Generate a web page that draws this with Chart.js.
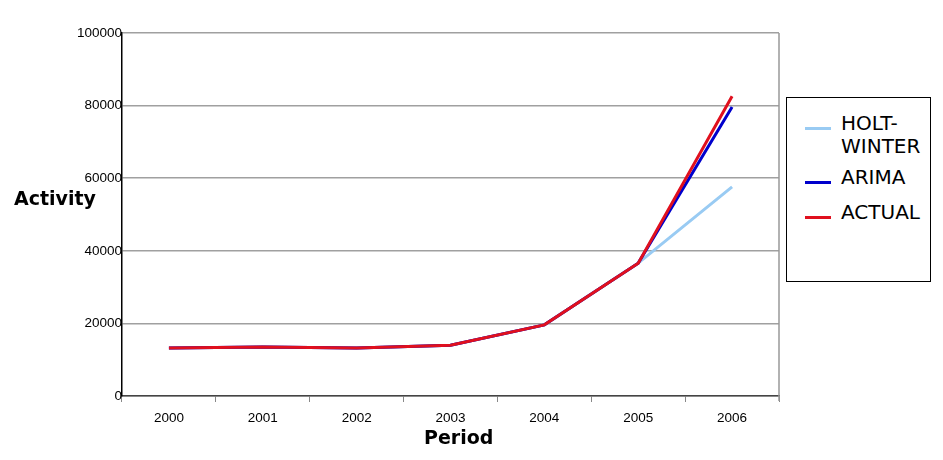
<!DOCTYPE html>
<html>
<head>
<meta charset="utf-8">
<script src="https://cdn.jsdelivr.net/npm/chart.js@4"></script>
<style>
  body { margin: 0; background: #fff; }
  #wrap { position: relative; width: 943px; height: 460px; }
  .ttl { position: absolute; font-family: "DejaVu Sans", Verdana, sans-serif; font-weight: bold; font-size: 19px; color: #000; white-space: nowrap; }
  #legend { position: absolute; left: 786px; top: 97px; width: 143px; height: 183px; border: 1px solid #000; background: #fff;
            font-family: "DejaVu Sans", Verdana, sans-serif; font-size: 20px; color: #000; }
  .item { position: absolute; left: 18px; }
  .item span.sw { position: absolute; left: 0; width: 26px; height: 3px; }
  .item span.tx { position: absolute; left: 36px; line-height: 23px; white-space: nowrap; }
</style>
</head>
<body>
<div id="wrap">
  <canvas id="activityChart" width="943" height="460"></canvas>
  <div class="ttl" style="left:14px; top:187px;">Activity</div>
  <div class="ttl" style="left:424px; top:426px;">Period</div>
  <div id="legend"></div>
</div>
<script>
const years = ['2000', '2001', '2002', '2003', '2004', '2005', '2006'];
const holtWinter = [13200, 13500, 13200, 14000, 19600, 36600, 57600];
const arima = [13200, 13500, 13200, 14000, 19600, 36600, 79600];
const actual = [13200, 13500, 13200, 14000, 19600, 36600, 82600];
const yTicks = [0, 20000, 40000, 60000, 80000, 100000];

const seriesNames = ['HOLT-\nWINTER', 'ARIMA', 'ACTUAL'];
const seriesColors = ['#99cbf3', '#0000cc', '#e0101e'];

document.addEventListener('DOMContentLoaded', function () {
    const ctx = document.getElementById('activityChart').getContext('2d');

    // gray right border of the plot area
    const rightBorder = {
        id: 'rightBorder',
        afterDraw(chart) {
            const a = chart.chartArea;
            const c = chart.ctx;
            c.save();
            c.strokeStyle = '#999';
            c.lineWidth = 1.5;
            c.beginPath();
            c.moveTo(a.right, a.top);
            c.lineTo(a.right, a.bottom + 5);
            c.stroke();
            c.restore();
        }
    };

    new Chart(ctx, {
        type: 'line',
        data: {
            labels: years,
            datasets: [
                { label: seriesNames[0], data: holtWinter, borderColor: seriesColors[0], borderWidth: 3, pointRadius: 0, fill: false, tension: 0, order: 3 },
                { label: seriesNames[1], data: arima, borderColor: seriesColors[1], borderWidth: 3, pointRadius: 0, fill: false, tension: 0, order: 2 },
                { label: seriesNames[2], data: actual, borderColor: seriesColors[2], borderWidth: 3, pointRadius: 0, fill: false, tension: 0, order: 1 }
            ]
        },
        options: {
            responsive: false,
            animation: false,
            layout: { padding: { left: 0, top: 33, right: 164, bottom: 0 } },
            plugins: { legend: { display: false }, tooltip: { enabled: false } },
            scales: {
                x: {
                    offset: true,
                    grid: { offset: true, drawOnChartArea: false, color: '#888', tickLength: 6 },
                    border: { color: '#444', width: 1.5 },
                    ticks: { color: '#000', font: { family: 'Liberation Sans', size: 13.5 }, padding: 8 },
                    afterFit(s) { s.height = 64; }
                },
                y: {
                    min: 0,
                    max: 100000,
                    afterBuildTicks(s) { s.ticks = yTicks.map(v => ({ value: v })); },
                    grid: { color: '#a0a0a0', lineWidth: 1.5, tickLength: 0 },
                    border: { color: '#000', width: 1.5 },
                    ticks: { color: '#000', font: { family: 'Liberation Sans', size: 13.5 }, padding: 0,
                             callback: v => String(v) },
                    afterFit(s) { s.width = 122; }
                }
            }
        },
        plugins: [rightBorder]
    });

    // legend box
    const legend = document.getElementById('legend');
    const rows = [{ top: 14, sw: 15 }, { top: 68, sw: 15 }, { top: 103, sw: 15 }];
    seriesNames.forEach(function (name, i) {
        const item = document.createElement('div');
        item.className = 'item';
        item.style.top = rows[i].top + 'px';
        item.innerHTML = '<span class="sw" style="top:' + rows[i].sw + 'px;background:' + seriesColors[i] + '"></span>' +
                         '<span class="tx">' + name.replace('\n', '<br>') + '</span>';
        legend.appendChild(item);
    });
});
</script>
</body>
</html>
